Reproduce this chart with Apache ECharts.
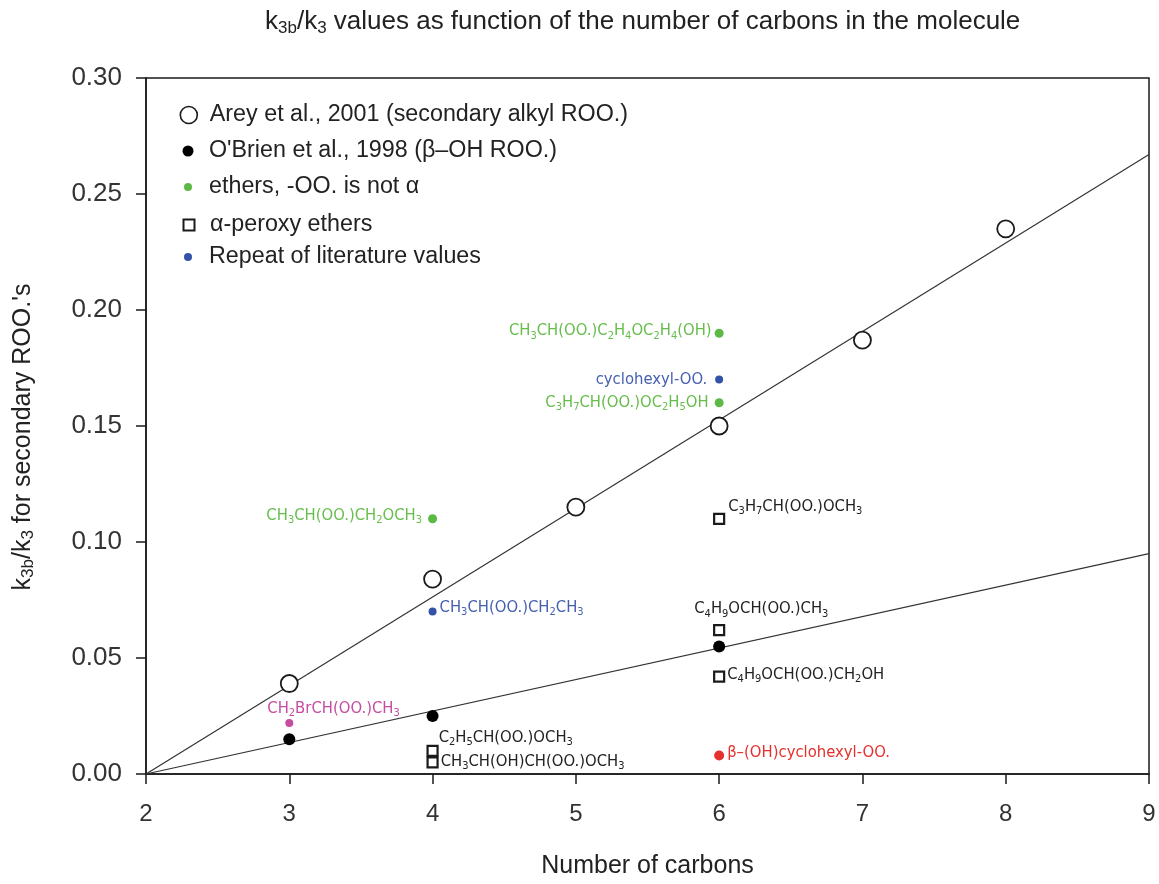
<!DOCTYPE html>
<html><head><meta charset="utf-8">
<script src="https://cdn.jsdelivr.net/npm/echarts@6/dist/echarts.min.js"></script>
<style>html,body{margin:0;padding:0;background:#fff}#c{width:1159px;height:884px}</style>
</head><body><div id="c"></div>
<script>
// ---------- data ----------
const titleText = 'k{s|3b}/k{s|3} values as function of the number of carbons in the molecule';
const xAxisName = 'Number of carbons';
const yAxisName = 'k{s|3b}/k{s|3} for secondary ROO.\'s';

const seriesNames = [
  'Arey et al., 2001 (secondary alkyl ROO.)',
  "O'Brien et al., 1998 (\u03b2\u2013OH ROO.)",
  'ethers, -OO. is not \u03b1',
  '\u03b1-peroxy ethers',
  'Repeat of literature values'
];

const areyX = [3, 4, 5, 6, 7, 8];
const areyY = [0.039, 0.084, 0.115, 0.150, 0.187, 0.235];

const obrienX = [3, 4, 6];
const obrienY = [0.015, 0.025, 0.055];

const etherX = [4, 6, 6];
const etherY = [0.110, 0.190, 0.160];
const etherLabels = [
  'CH{s|3}CH(OO.)CH{s|2}OCH{s|3}',
  'CH{s|3}CH(OO.)C{s|2}H{s|4}OC{s|2}H{s|4}(OH)',
  'C{s|3}H{s|7}CH(OO.)OC{s|2}H{s|5}OH'
];

const peroxyX = [6, 6, 6, 4, 4];
const peroxyY = [0.110, 0.062, 0.042, 0.010, 0.005];
const peroxyLabels = [
  'C{s|3}H{s|7}CH(OO.)OCH{s|3}',
  'C{s|4}H{s|9}OCH(OO.)CH{s|3}',
  'C{s|4}H{s|9}OCH(OO.)CH{s|2}OH',
  'C{s|2}H{s|5}CH(OO.)OCH{s|3}',
  'CH{s|3}CH(OH)CH(OO.)OCH{s|3}'
];

const repeatX = [6, 4];
const repeatY = [0.170, 0.070];
const repeatLabels = ['cyclohexyl-OO.', 'CH{s|3}CH(OO.)CH{s|2}CH{s|3}'];

const bromoX = [3];
const bromoY = [0.022];
const bromoLabels = ['CH{s|2}BrCH(OO.)CH{s|3}'];

const hydroxyX = [6];
const hydroxyY = [0.008];
const hydroxyLabels = ['\u03b2\u2013(OH)cyclohexyl-OO.'];

const fitX = [2, 9];
const fitUpperY = [0, 0.267];
const fitLowerY = [0, 0.095];

// ---------- styling ----------
const FONT = '"Liberation Sans", Arial, Helvetica, sans-serif';
const NARROW = '"Liberation Sans Narrow", "Arial Narrow", "DejaVu Sans Condensed", "Liberation Sans", sans-serif';
const INK = '#1a1a1a';
const GREEN = '#5cb946', GREEN_T = '#66bd4c';
const BLUE = '#3353a8', BLUE_T = '#4560b0';
const PINK = '#c64c9f', RED = '#e5302d';

// label placement per point (style, not data)
const etherPlace = [
  {position: 'left', distance: 6, offset: [0, -3]},
  {position: 'left', distance: 3, offset: [0, -2]},
  {position: 'left', distance: 6, offset: [0, 0]}
];
const peroxyPlace = [
  {position: 'right', distance: 3, offset: [0, -12]},
  {position: 'right', distance: 5, offset: [-36, -21]},
  {position: 'right', distance: 2, offset: [0, -2]},
  {position: 'right', distance: 0, offset: [0, -13]},
  {position: 'right', distance: 2, offset: [0, -1]}
];
const repeatPlace = [
  {position: 'left', distance: 8, offset: [0, 0]},
  {position: 'right', distance: 3, offset: [0, -4]}
];
const bromoPlace = [{position: 'right', distance: 5, offset: [-31, -14]}];
const hydroxyPlace = [{position: 'right', distance: 3, offset: [0, -3]}];

function pts(xs, ys, names, place) {
  return xs.map((x, i) => {
    const d = {value: [x, ys[i]]};
    if (names) d.name = names[i];
    if (place) d.label = place[i];
    return d;
  });
}
function labelCfg(color) {
  return {
    show: true,
    formatter: p => p.name,
    fontFamily: NARROW, fontSize: 16.5, lineHeight: 20, color: color,
    rich: {s: {fontFamily: NARROW, fontSize: 11, lineHeight: 9, verticalAlign: 'bottom', color: color}}
  };
}

const chart = echarts.init(document.getElementById('c'), null, {renderer: 'canvas'});

const legendRows = [
  {name: seriesNames[0], cy: 115, w: 17, style: {color: '#fff', borderColor: INK, borderWidth: 1.6}},
  {name: seriesNames[1], cy: 151, w: 11, style: {color: '#000', borderWidth: 0}},
  {name: seriesNames[2], cy: 187, w: 8, style: {color: GREEN, borderWidth: 0}},
  {name: seriesNames[3], cy: 225, w: 11, style: {color: '#fff', borderColor: INK, borderWidth: 2}},
  {name: seriesNames[4], cy: 257, w: 8, style: {color: BLUE, borderWidth: 0}}
];

const option = {
  animation: false,
  backgroundColor: '#fff',
  textStyle: {fontFamily: FONT},
  title: {
    text: titleText,
    left: 265, top: 7, padding: 0,
    textStyle: {
      fontFamily: FONT, fontSize: 26, fontWeight: 'normal', color: '#222', lineHeight: 30,
      rich: {s: {fontFamily: FONT, fontSize: 17, lineHeight: 12, verticalAlign: 'bottom', color: '#222'}}
    }
  },
  legend: legendRows.map(r => ({
    data: [r.name],
    left: 188 - r.w / 2, top: r.cy - 12,
    padding: 0, selectedMode: false,
    itemWidth: r.w, itemHeight: r.w,
    itemStyle: r.style,
    textStyle: {fontFamily: FONT, fontSize: 23.3, lineHeight: 24, color: '#222', padding: [0, 0, 0, 16 - r.w / 2]}
  })),
  grid: {left: 146, right: 10, top: 78, bottom: 103, show: true, borderColor: INK, borderWidth: 1.5, containLabel: false},
  xAxis: {
    type: 'value', min: 2, max: 9, interval: 1,
    name: xAxisName, nameLocation: 'middle', nameGap: 80,
    nameTextStyle: {fontFamily: FONT, fontSize: 25, color: '#222'},
    axisLine: {show: true, onZero: false, lineStyle: {color: INK, width: 1.5}},
    axisTick: {show: true, length: 10, lineStyle: {color: INK, width: 1.5}},
    axisLabel: {fontFamily: FONT, fontSize: 24, color: '#333', margin: 28},
    splitLine: {show: false}
  },
  yAxis: {
    type: 'value', min: 0, max: 0.30, interval: 0.05,
    name: yAxisName, nameLocation: 'middle', nameGap: 109, nameRotate: 90,
    nameTextStyle: {
      fontFamily: FONT, fontSize: 25, color: '#222', lineHeight: 28, padding: [0, 22, 0, 0],
      rich: {s: {fontFamily: FONT, fontSize: 17, lineHeight: 16, verticalAlign: 'bottom', color: '#222'}}
    },
    axisLine: {show: true, onZero: false, lineStyle: {color: INK, width: 1.5}},
    axisTick: {show: true, length: 10, lineStyle: {color: INK, width: 1.5}},
    axisLabel: {fontFamily: FONT, fontSize: 26, color: '#333', margin: 24, formatter: v => v.toFixed(2)},
    splitLine: {show: false}
  },
  series: [
    {type: 'line', data: pts(fitX, fitUpperY), symbol: 'none', silent: true, z: 1,
     lineStyle: {color: '#333', width: 1.2}},
    {type: 'line', data: pts(fitX, fitLowerY), symbol: 'none', silent: true, z: 1,
     lineStyle: {color: '#333', width: 1.2}},
    {name: seriesNames[0], type: 'scatter', data: pts(areyX, areyY), symbol: 'circle', symbolSize: 17, z: 3,
     itemStyle: {color: '#fff', borderColor: INK, borderWidth: 1.8, opacity: 1}},
    {name: seriesNames[1], type: 'scatter', data: pts(obrienX, obrienY), symbol: 'circle', symbolSize: 12, z: 3,
     itemStyle: {color: '#000', opacity: 1}},
    {name: seriesNames[2], type: 'scatter', data: pts(etherX, etherY, etherLabels, etherPlace), symbol: 'circle', symbolSize: 9, z: 3,
     itemStyle: {color: GREEN, opacity: 1}, label: labelCfg(GREEN_T)},
    {name: seriesNames[3], type: 'scatter', data: pts(peroxyX, peroxyY, peroxyLabels, peroxyPlace), symbol: 'rect', symbolSize: 10, z: 3,
     itemStyle: {color: '#fff', borderColor: INK, borderWidth: 2.2, opacity: 1}, label: labelCfg('#222')},
    {name: seriesNames[4], type: 'scatter', data: pts(repeatX, repeatY, repeatLabels, repeatPlace), symbol: 'circle', symbolSize: 8, z: 3,
     itemStyle: {color: BLUE, opacity: 1}, label: labelCfg(BLUE_T)},
    {name: 'bromo', type: 'scatter', data: pts(bromoX, bromoY, bromoLabels, bromoPlace), symbol: 'circle', symbolSize: 8, z: 3,
     itemStyle: {color: PINK, opacity: 1}, label: labelCfg(PINK)},
    {name: 'hydroxy', type: 'scatter', data: pts(hydroxyX, hydroxyY, hydroxyLabels, hydroxyPlace), symbol: 'circle', symbolSize: 10, z: 3,
     itemStyle: {color: RED, opacity: 1}, label: labelCfg(RED)}
  ]
};
chart.setOption(option);
</script>
</body></html>
